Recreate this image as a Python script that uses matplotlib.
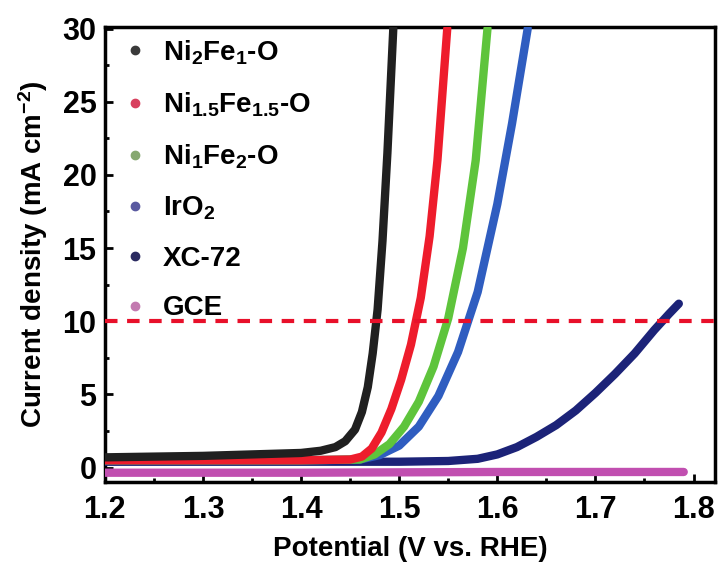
import numpy as np
import matplotlib.pyplot as plt
from matplotlib.ticker import MultipleLocator

plt.rcParams['font.family'] = ['Liberation Sans', 'DejaVu Sans']
plt.rcParams['font.weight'] = 'bold'
plt.rcParams['mathtext.default'] = 'regular'

# Potential (V vs. RHE) and current density (mA cm^-2)
v_ni2fe1 = [1.20, 1.25, 1.30, 1.35, 1.40, 1.42, 1.435, 1.445, 1.455, 1.462, 1.468, 1.473, 1.478, 1.483, 1.488, 1.494]
j_ni2fe1 = [0.7, 0.75, 0.8, 0.9, 1.0, 1.15, 1.4, 1.8, 2.6, 3.8, 5.5, 7.8, 10.8, 15.5, 21.5, 30.0]

v_ni15 = [1.20, 1.30, 1.40, 1.45, 1.462, 1.472, 1.482, 1.492, 1.502, 1.512, 1.522, 1.531, 1.539, 1.549]
j_ni15 = [0.5, 0.5, 0.5, 0.55, 0.75, 1.3, 2.4, 4.0, 6.0, 8.4, 11.6, 15.8, 21.0, 30.0]

v_ni1fe2 = [1.20, 1.30, 1.40, 1.46, 1.475, 1.49, 1.505, 1.52, 1.535, 1.55, 1.565, 1.578, 1.59]
j_ni1fe2 = [0.5, 0.5, 0.5, 0.55, 0.9, 1.6, 2.8, 4.5, 6.9, 10.2, 15.0, 21.0, 30.0]

v_iro2 = [1.20, 1.30, 1.40, 1.46, 1.48, 1.50, 1.52, 1.54, 1.56, 1.58, 1.60, 1.615, 1.631]
j_iro2 = [0.5, 0.5, 0.5, 0.55, 0.85, 1.5, 2.8, 4.9, 7.9, 12.0, 18.0, 23.5, 30.0]

v_xc72 = [1.20, 1.30, 1.40, 1.50, 1.55, 1.58, 1.60, 1.62, 1.64, 1.66, 1.68, 1.70, 1.72, 1.74, 1.76, 1.775, 1.785]
j_xc72 = [0.4, 0.4, 0.4, 0.4, 0.45, 0.6, 0.9, 1.4, 2.1, 2.9, 3.9, 5.1, 6.4, 7.8, 9.4, 10.5, 11.2]

v_gce = [1.20, 1.40, 1.60, 1.79]
j_gce = [-0.35, -0.35, -0.3, -0.3]

series = [
    (v_ni2fe1, j_ni2fe1, '#202020', '#3a3a3a', r'Ni$_2$Fe$_1$-O'),
    (v_ni15, j_ni15, '#ee1c2c', '#d8405e', r'Ni$_{1.5}$Fe$_{1.5}$-O'),
    (v_ni1fe2, j_ni1fe2, '#5ec43c', '#86a870', r'Ni$_1$Fe$_2$-O'),
    (v_iro2, j_iro2, '#2f5dc0', '#5a5aa0', r'IrO$_2$'),
    (v_xc72, j_xc72, '#1c2378', '#2a2a60', 'XC-72'),
    (v_gce, j_gce, '#c14fb0', '#c37ab0', 'GCE'),
]

fig = plt.figure(figsize=(7.18, 5.64), dpi=100)
ax = fig.add_axes([0.146, 0.145, 0.85, 0.807])

for i, (v, j, c, lc, lab) in enumerate(series):
    ax.plot(v, j, color=c, lw=6, solid_capstyle='round', solid_joinstyle='round', zorder=8 - i)
    ax.plot([], [], 'o', color=lc, ms=6, label=lab)

ax.axhline(10, color='#e8102a', lw=3, ls=(0, (3, 2.3)), zorder=10)

ax.set_xlim(1.2, 1.822)
ax.set_ylim(-1.0, 30.1)
ax.xaxis.set_major_locator(MultipleLocator(0.1))
ax.xaxis.set_minor_locator(MultipleLocator(0.05))
ax.yaxis.set_major_locator(MultipleLocator(5))
ax.yaxis.set_minor_locator(MultipleLocator(2.5))
ax.tick_params(which='both', direction='in', labelsize=22, width=2, top=False, right=False)
ax.tick_params(axis='x', which='major', pad=9)
ax.tick_params(axis='y', which='major', pad=6)
ax.tick_params(which='major', length=6)
ax.tick_params(which='minor', length=3)
for s in ax.spines.values():
    s.set_linewidth(2.5)

ax.set_xlabel('Potential (V vs. RHE)', fontsize=20, fontweight='bold', labelpad=8)
ax.set_ylabel(r'Current density (mA cm$^{-2}$)', fontsize=20, fontweight='bold', labelpad=9)

leg = ax.legend(loc='upper left', frameon=False, fontsize=20, handletextpad=0.3,
                labelspacing=0.85, borderaxespad=0.0, handlelength=1.4,
                bbox_to_anchor=(0.0, 1.0))

fig.savefig('out.png', dpi=100)
